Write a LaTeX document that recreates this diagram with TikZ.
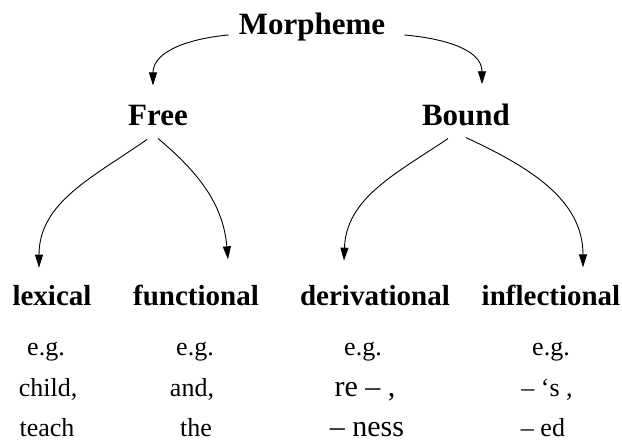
\documentclass[tikz,border=0pt]{standalone}
\usepackage{fontspec}
\setmainfont{Liberation Serif}
\usetikzlibrary{arrows.meta}

\begin{document}
\begin{tikzpicture}[x=1pt, y=1pt,
  top/.style={anchor=base, inner sep=0pt, font=\fontsize{31}{31}\selectfont\bfseries},
  kind/.style={anchor=base, inner sep=0pt, font=\fontsize{29}{29}\selectfont\bfseries},
  ex/.style={anchor=base, inner sep=0pt, font=\fontsize{26}{26}\selectfont},
  affix/.style={anchor=base, inner sep=0pt, font=\fontsize{30}{30}\selectfont},
  link/.style={line width=0.9pt, -{Triangle[length=13pt, width=8pt]}}]
  \useasboundingbox (0, 0) rectangle (622, 443);

  % Top of the tree
  \node[top] (morph) at (312, 408) {Morpheme};
  \node[top] (free) at (158, 317) {Free};
  \node[top] (bound) at (466, 317) {Bound};
  \draw[link] ([xshift=-10]morph.base west) to[out=185, in=90] ([xshift=-5, yshift=20]free.north);
  \draw[link] ([xshift=19]morph.base east) to[out=-5, in=90] ([xshift=16, yshift=20]bound.north);

  % Kinds of morphemes
  \node[kind] (lex) at (52, 137) {lexical};
  \node[kind] (func) at (196, 137) {functional};
  \node[kind] (deriv) at (375, 137) {derivational};
  \node[kind] (infl) at (551, 137) {inflectional};
  \draw[link] ([xshift=-11, yshift=-13]free.south) to[out=215, in=90] ([xshift=-13, yshift=18]lex.north);
  \draw[link] ([yshift=-12]free.south) to[out=-40, in=95] ([xshift=32, yshift=26]func.north);
  \draw[link] ([xshift=-18, yshift=-12]bound.south) to[out=214, in=88] ([xshift=-31, yshift=25]deriv.north);
  \draw[link] ([yshift=-11]bound.south) to[out=-25, in=90] ([xshift=32, yshift=18]infl.north);

  % Examples
  \node[ex] (eg1) at (46, 87) {e.g.};
  \node[ex] (eg2) at (195, 87) {e.g.};
  \node[ex] (eg3) at (363, 87) {e.g.};
  \node[ex] (eg4) at (551, 87) {e.g.};
  \node[ex] (lexa) at (48, 46) {child,};
  \node[ex] (funca) at (192, 46) {and,};
  \node[affix] (deriva) at (365, 46) {re – ,};
  \node[ex] (infla) at (547, 46) {– ‘s ,};
  \node[ex] (lexb) at (47, 6) {teach};
  \node[ex] (funcb) at (196, 6) {the};
  \node[affix] (derivb) at (367, 6) {– ness};
  \node[ex] (inflb) at (543, 6) {– ed};
\end{tikzpicture}
\end{document}
